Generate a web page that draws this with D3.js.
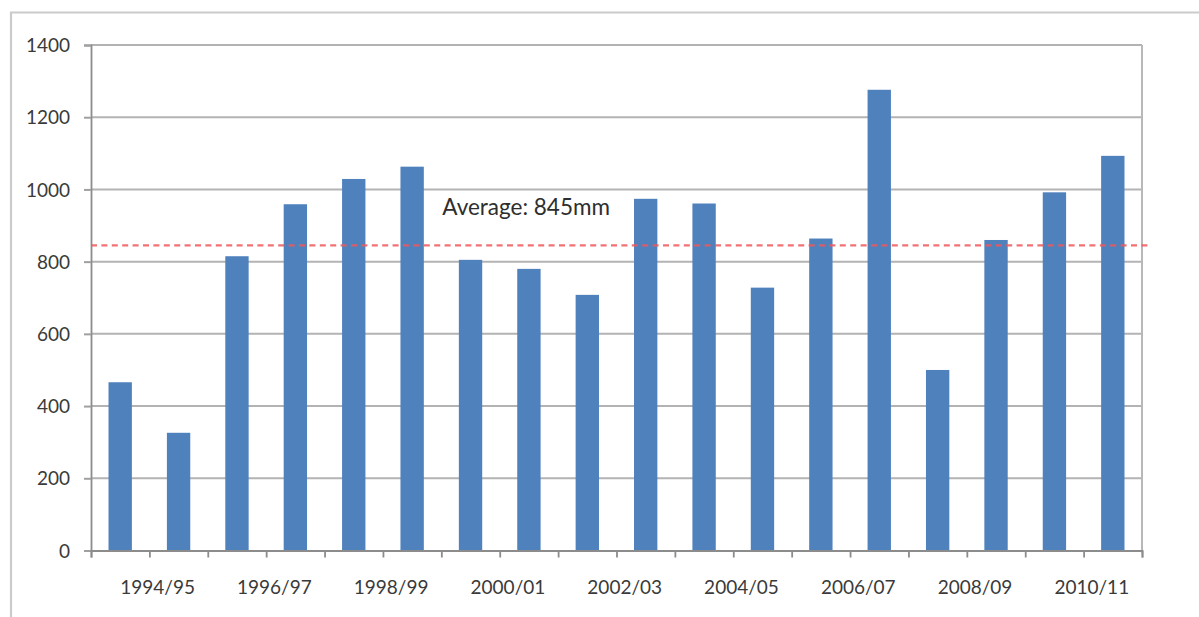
<!DOCTYPE html>
<html>
<head>
<meta charset="utf-8">
<script src="https://cdn.jsdelivr.net/npm/d3@7/dist/d3.min.js"></script>
<style>
  html, body { margin: 0; padding: 0; background: #fff; }
  svg { display: block; }
  .tick text { font-family: Lato, "Open Sans", sans-serif; font-size: 19px; fill: #3a3a3a; }
</style>
</head>
<body>
<svg id="chart" width="1199" height="617"></svg>
<script>
// Annual rainfall (mm) by season
const categories = [
  "1993/94", "1994/95", "1995/96", "1996/97", "1997/98", "1998/99",
  "1999/00", "2000/01", "2001/02", "2002/03", "2003/04", "2004/05",
  "2005/06", "2006/07", "2007/08", "2008/09", "2009/10", "2010/11"
];
const rainfall = [
  466, 326, 815, 959, 1029, 1063,
  805, 780, 708, 974, 961, 728,
  864, 1276, 500, 860, 992, 1093
];
const yTicks = [0, 200, 400, 600, 800, 1000, 1200, 1400];
// every second season gets a label on the category axis
const labelledSeasons = categories.filter((d, i) => i % 2 === 1);
const averageValue = 845;
const averageLabel = "Average: 845mm";

const svg = d3.select("#chart");
const plot = { left: 91, right: 1142, top: 45, bottom: 550.5 };

// outer chart frame (top and left edges)
svg.append("path")
  .attr("d", `M11,617 V12.5 H1199`)
  .attr("fill", "none")
  .attr("stroke", "#cbcbcb")
  .attr("stroke-width", 2.2);

const x = d3.scaleBand()
  .domain(categories)
  .range([plot.left, plot.right])
  .paddingInner(0.6)
  .paddingOuter(0.3);

const y = d3.scaleLinear()
  .domain([0, 1400])
  .range([plot.bottom, plot.top]);

// season boundaries along the category axis
const boundary = d3.scaleLinear().domain([0, categories.length]).range([plot.left, plot.right]);

// horizontal gridlines
svg.append("g")
  .selectAll("line")
  .data(yTicks.filter(d => d > 0))
  .join("line")
  .attr("x1", plot.left)
  .attr("x2", plot.right)
  .attr("y1", d => y(d))
  .attr("y2", d => y(d))
  .attr("stroke", "#b3b3b3")
  .attr("stroke-width", 2);

// right edge of plot area
svg.append("line")
  .attr("x1", plot.right).attr("x2", plot.right)
  .attr("y1", plot.top).attr("y2", plot.bottom + 2)
  .attr("stroke", "#b8b8b8")
  .attr("stroke-width", 2);

// bars
svg.append("g")
  .selectAll("rect")
  .data(categories.map((c, i) => ({ c, v: rainfall[i] })))
  .join("rect")
  .attr("x", d => x(d.c))
  .attr("width", x.bandwidth())
  .attr("y", d => y(d.v))
  .attr("height", d => y(0) - y(d.v))
  .attr("fill", "#4f81bd");

// value axis
const yAxis = svg.append("g")
  .attr("transform", `translate(${plot.left},0)`)
  .call(d3.axisLeft(y).tickValues(yTicks).tickSize(7).tickPadding(14).tickFormat(d3.format("d")));
yAxis.select(".domain").attr("stroke", "#8c8c8c").attr("stroke-width", 1.8);
yAxis.selectAll(".tick line").attr("stroke", "#a0a0a0").attr("stroke-width", 2);
yAxis.selectAll(".tick text").attr("dy", "0.35em");

// category axis: tick marks at every season boundary
const xTickAxis = svg.append("g")
  .attr("transform", `translate(0,${plot.bottom})`)
  .call(d3.axisBottom(boundary).tickValues(d3.range(categories.length + 1)).tickSize(7).tickFormat(""));
xTickAxis.select(".domain").attr("stroke", "#8c8c8c").attr("stroke-width", 1.8);
xTickAxis.selectAll(".tick line").attr("stroke", "#8c8c8c").attr("stroke-width", 1.8);

// category labels
const xLabelAxis = svg.append("g")
  .attr("transform", `translate(0,${plot.bottom})`)
  .call(d3.axisBottom(x).tickValues(labelledSeasons).tickSize(0).tickPadding(30));
xLabelAxis.select(".domain").remove();
xLabelAxis.selectAll(".tick text").attr("dx", -21);

// average line
svg.append("line")
  .attr("x1", plot.left)
  .attr("x2", plot.right + 6)
  .attr("y1", y(averageValue))
  .attr("y2", y(averageValue))
  .attr("stroke", "#f0585c")
  .attr("stroke-opacity", 0.85)
  .attr("stroke-width", 2.2)
  .attr("stroke-dasharray", "6,4.4");

svg.append("text")
  .attr("x", boundary(6) + 1)
  .attr("y", y(averageValue) - 30)
  .attr("font-family", "Lato, 'Open Sans', sans-serif")
  .attr("font-size", 22.5)
  .attr("fill", "#2e2e2e")
  .text(averageLabel);
</script>
</body>
</html>
